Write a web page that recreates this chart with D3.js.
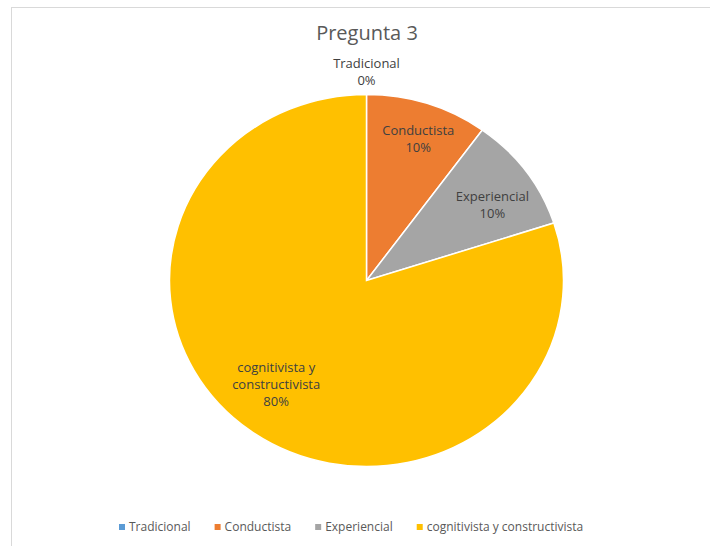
<!DOCTYPE html>
<html><head><meta charset="utf-8">
<script src="https://cdn.jsdelivr.net/npm/d3@7/dist/d3.min.js"></script>
<style>body{margin:0;background:#fff}svg{display:block}text{font-family:"Open Sans",sans-serif}</style>
</head><body>
<script>
const categories = ["Tradicional","Conductista","Experiencial","cognitivista y constructivista"];
const values = [0, 10, 10, 80];
const percentLabels = ["0%","10%","10%","80%"];
const colors = ["#5B9BD5","#ED7D31","#A5A5A5","#FFC000"];
const title = "Pregunta 3";

const W = 710, H = 546;
const svg = d3.select("body").append("svg").attr("width", W).attr("height", H);
svg.append("rect").attr("x",11.5).attr("y",7.5).attr("width",W).attr("height",H)
  .attr("fill","#fff").attr("stroke","#d9d9d9").attr("stroke-width",1);

svg.append("text").attr("x",367).attr("y",40).attr("text-anchor","middle")
  .attr("font-size",20).attr("fill","#595959").text(title);

const cx = 366.5, cy = 280.5, rx = 197, ry = 186;
const pie = d3.pie().sort(null).value(d=>d)(values);
const arc = d3.arc().innerRadius(0).outerRadius(1);
const g = svg.append("g").attr("transform",`translate(${cx},${cy})`);
g.selectAll("path").data(pie).join("path")
  .attr("d", arc)
  .attr("transform",`scale(${rx},${ry})`)
  .attr("fill",(d,i)=>colors[i])
  .attr("stroke","#fff").attr("stroke-width",1.5).attr("vector-effect","non-scaling-stroke");

// label positions as fractions of the radius along the slice bisector
const labelFx = [1.12, 0.85, 0.79, 0.78];
const labelFy = [1.12, 0.80, 0.69, 0.69];
const labelLines = [["Tradicional"],["Conductista"],["Experiencial"],["cognitivista y","constructivista"]];
const lh = 17.3;
pie.forEach((d,i)=>{
  const a = (d.startAngle + d.endAngle)/2;
  const x = cx + Math.sin(a)*labelFx[i]*rx, y = cy - Math.cos(a)*labelFy[i]*ry;
  const lines = labelLines[i].concat([percentLabels[i]]);
  const t = svg.append("text").attr("text-anchor","middle").attr("font-size",13).attr("fill","#404040");
  const y0 = y - (lines.length-1)*lh/2 + 4.5;
  lines.forEach((l,k)=>t.append("tspan").attr("x",x).attr("y",y0+k*lh).text(l));
});

// legend
const lg = svg.append("g");
const items = lg.selectAll("g").data(categories).join("g");
items.append("rect").attr("width",6).attr("height",6).attr("y",-7).attr("fill",(d,i)=>colors[i]);
items.append("text").attr("x",10).attr("y",0).attr("font-size",12).attr("fill","#595959").text(d=>d);
let xoff = 0; const gap = 24;
items.each(function(){ const w = this.getBBox().width; d3.select(this).attr("transform",`translate(${xoff},531)`); xoff += w + gap; });
lg.attr("transform",`translate(119,0)`);
</script>
</body></html>
